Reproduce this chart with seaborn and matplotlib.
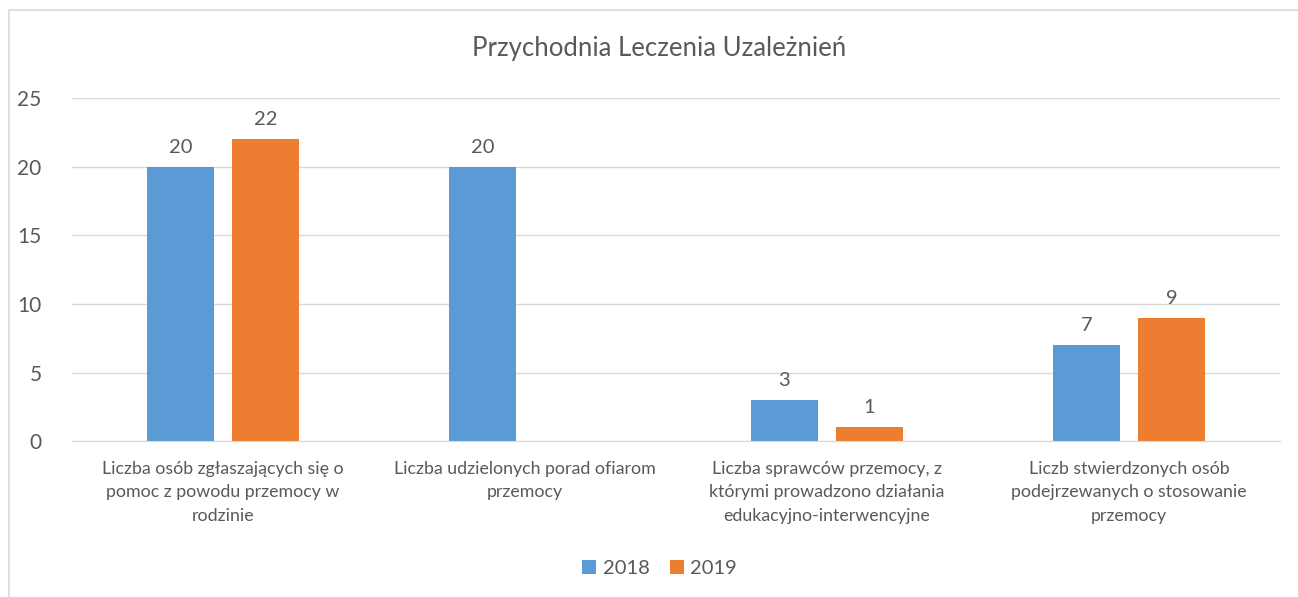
import pandas as pd
import numpy as np
import matplotlib
matplotlib.use("Agg")
import matplotlib.pyplot as plt
from matplotlib.lines import Line2D
import seaborn as sns

# --- Data ---
categories = [
    "Liczba osób zgłaszających się o\npomoc z powodu przemocy w\nrodzinie",
    "Liczba udzielonych porad ofiarom\nprzemocy",
    "Liczba sprawców przemocy, z\nktórymi prowadzono działania\nedukacyjno-interwencyjne",
    "Liczb stwierdzonych osób\npodejrzewanych o stosowanie\nprzemocy",
]
values_2018 = [20, 20, 3, 7]
values_2019 = [22, np.nan, 1, 9]
years = ["2018", "2019"]
title = "Przychodnia Leczenia Uzależnień"

df = pd.DataFrame({
    "kategoria": categories * 2,
    "rok": [years[0]] * 4 + [years[1]] * 4,
    "wartosc": values_2018 + values_2019,
})

# --- Style ---
sns.set_style("white")
plt.rcParams["font.family"] = ["Lato", "DejaVu Sans"]
TXT = "#595959"
GRID = "#D9D9D9"
palette = {"2018": "#5B9BD5", "2019": "#ED7D31"}

fig = plt.figure(figsize=(12.98, 5.97), dpi=100)
ax = fig.add_axes([0.0555, 0.261, 0.9305, 0.5745])

sns.barplot(data=df, x="kategoria", y="wartosc", hue="rok", palette=palette,
            width=0.563, gap=0.21, saturation=1, linewidth=0, ax=ax, legend=True)

for cont in ax.containers:
    labels = ["" if np.isnan(v) else f"{v:g}" for v in cont.datavalues]
    ax.bar_label(cont, labels=labels, padding=8, fontsize=14.5, color=TXT)

ax.set_ylim(0, 25)
ax.set_yticks(range(0, 26, 5))
ax.set_xlim(-0.5, 3.5)
ax.yaxis.grid(True, color=GRID, linewidth=1)
ax.set_axisbelow(True)
for s in ["top", "left", "right"]:
    ax.spines[s].set_visible(False)
ax.spines["bottom"].set_color(GRID)
ax.tick_params(axis="y", length=0, pad=22, labelsize=15, labelcolor=TXT)
ax.tick_params(axis="x", length=0, pad=14, labelsize=12.8, labelcolor=TXT)
for lab in ax.get_xticklabels():
    lab.set_linespacing(1.6)
ax.set_xlabel("")
ax.set_ylabel("")

fig.text(0.508, 0.918, title, ha="center", va="center", fontsize=18.5, color=TXT)

ax.legend(loc="center", bbox_to_anchor=(0.508, 0.047), bbox_transform=fig.transFigure,
          ncol=2, frameon=False, fontsize=14.5, labelcolor=TXT, handlelength=0.7,
          handleheight=0.7, handletextpad=0.3, columnspacing=1.0)

# chart border (left and top edges)
fig.add_artist(Line2D([9 / 1298, 9 / 1298], [0, 1 - 10 / 597], color=GRID, linewidth=1.2))
fig.add_artist(Line2D([9 / 1298, 1], [1 - 10 / 597, 1 - 10 / 597], color=GRID, linewidth=1.2))

fig.savefig("out.png", dpi=100)
